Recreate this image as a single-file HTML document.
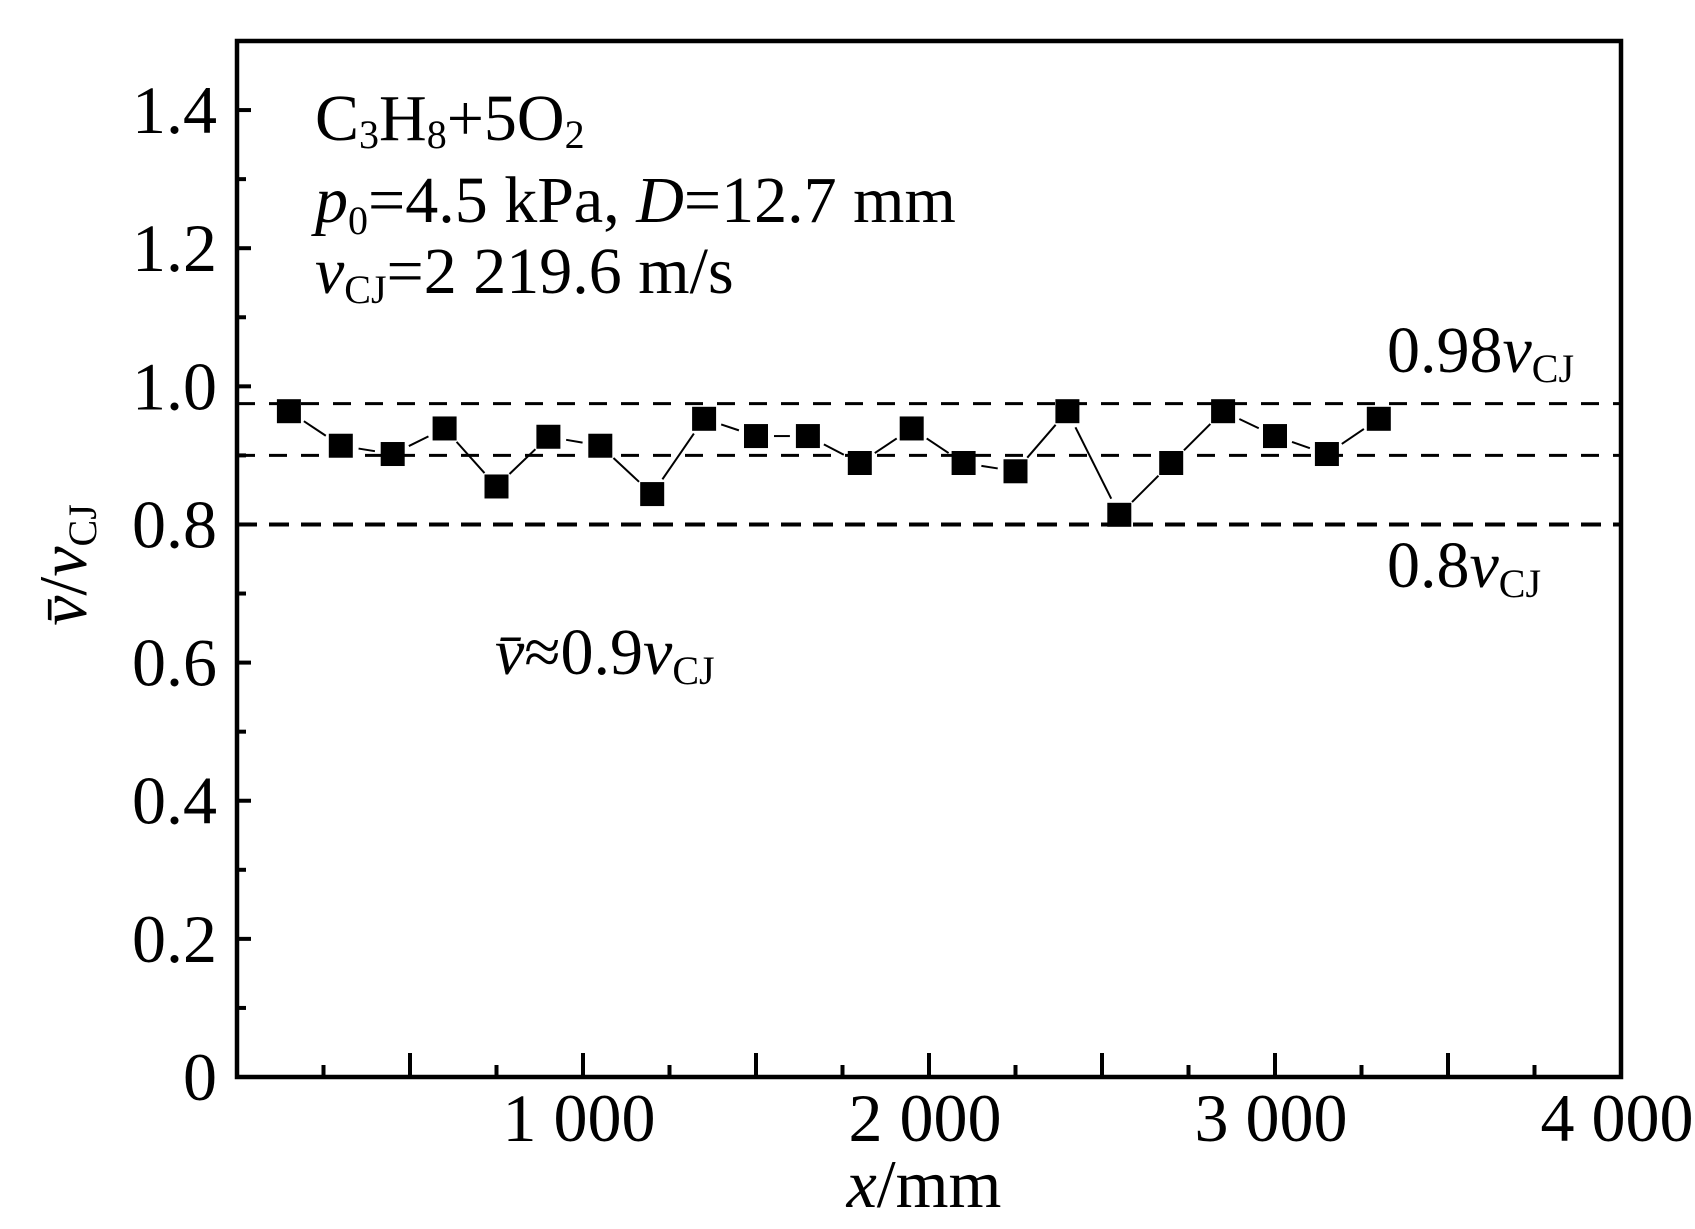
<!DOCTYPE html>
<html><head><meta charset="utf-8"><style>
html,body{margin:0;padding:0;background:#fff;}
svg{display:block;font-family:"Liberation Serif",serif;}
</style></head><body>
<svg id="chart" width="1695" height="1229" viewBox="0 0 1695 1229" xmlns="http://www.w3.org/2000/svg">
<g id="grid"></g>
<g id="marks"></g>
<g id="axes"></g>
<g id="labels" font-size="62" fill="#000"></g>
</svg>
<script>
const xs = [150,300,450,600,750,900,1050,1200,1350,1500,1650,1800,1950,2100,2250,2400,2550,2700,2850,3000,3150,3300];
const ys = [0.964,0.914,0.902,0.939,0.855,0.927,0.914,0.844,0.953,0.928,0.928,0.889,0.939,0.889,0.877,0.964,0.814,0.889,0.964,0.928,0.902,0.953];
const refLines = [0.975,0.9,0.8];
const yTicks = [0,0.2,0.4,0.6,0.8,1.0,1.2,1.4];
const yTickLabels = ["0","0.2","0.4","0.6","0.8","1.0","1.2","1.4"];
const xTicks = [1000,2000,3000,4000];
const xTickLabels = ["1 000","2 000","3 000","4 000"];

const L=237,R=1621,T=41,B=1077,XMAX=4000,YMAX=1.5;
const sx=v=>L+(v/XMAX)*(R-L);
const sy=v=>B-(v/YMAX)*(B-T);
const NS="http://www.w3.org/2000/svg";
function mk(tag,attrs,parent){const e=document.createElementNS(NS,tag);for(const k in attrs)e.setAttribute(k,attrs[k]);parent.appendChild(e);return e;}
const grid=document.getElementById('grid'),marks=document.getElementById('marks'),axes=document.getElementById('axes'),labels=document.getElementById('labels');

refLines.forEach((v,i)=>{
  const l=mk('line',{x1:L,x2:R,y1:sy(v),y2:sy(v),stroke:'#000','stroke-width':i==2?4:3,'stroke-dasharray':i==2?'20 12':'18 14'},grid);
  
  
});

for(let i=0;i<xs.length-1;i++){
  const x1=sx(xs[i]),y1=sy(ys[i]),x2=sx(xs[i+1]),y2=sy(ys[i+1]);
  const dx=x2-x1,dy=y2-y1,d=Math.hypot(dx,dy),g=18;
  if(d>2*g){
    const s=mk('line',{x1:x1+dx*g/d,y1:y1+dy*g/d,x2:x2-dx*g/d,y2:y2-dy*g/d,stroke:'#000','stroke-width':2},marks);
    
    
  }
}
xs.forEach((x,i)=>{
  const r=mk('rect',{x:sx(x)-12,y:sy(ys[i])-12,width:24,height:24,fill:'#000'},marks);
  
  
});

const frame=mk('rect',{x:L,y:T,width:R-L,height:B-T,fill:'none',stroke:'#000','stroke-width':4.5},axes);


for(let v=0;v<=1.5001;v+=0.1){
  const major=Math.round(v*10)%2==0;
  const t=mk('line',{x1:L,x2:L+(major?14:9),y1:sy(v),y2:sy(v),stroke:'#000','stroke-width':4},axes);
  
  
}
for(let v=250;v<XMAX;v+=250){
  const major=v%500==0;
  const t=mk('line',{x1:sx(v),x2:sx(v),y1:B,y2:B-(major?24:12),stroke:'#000','stroke-width':4},axes);
  
  
}

yTicks.forEach((v,i)=>{
  const t=mk('text',{x:217,y:sy(v)+23,'text-anchor':'end','font-size':68},labels);
  t.textContent=yTickLabels[i];
  
  
});
xTicks.forEach((v,i)=>{
  const t=mk('text',{x:sx(v)-4,y:1141,'text-anchor':'middle','font-size':68},labels);
  t.textContent=xTickLabels[i];
  
  
});
</script>
<script>
(function(){
const labels=document.getElementById('labels');
labels.insertAdjacentHTML('beforeend',`
<text x="924" y="1207" text-anchor="middle" font-size="68"><tspan font-style="italic">x</tspan>/mm</text>
<text transform="translate(86,565) rotate(-90)" text-anchor="middle" font-size="68"><tspan font-style="italic">v̄</tspan>/<tspan font-style="italic">v</tspan><tspan font-size="40" dy="10">CJ</tspan></text>
<text x="315" y="140" font-size="66">C<tspan font-size="40" dy="8">3</tspan><tspan dy="-8">H</tspan><tspan font-size="40" dy="8">8</tspan><tspan dy="-8">+5O</tspan><tspan font-size="40" dy="8">2</tspan></text>
<text x="315" y="222" font-size="66"><tspan font-style="italic">p</tspan><tspan font-size="40" dy="12">0</tspan><tspan dy="-12">=4.5 kPa, </tspan><tspan font-style="italic">D</tspan>=12.7 mm</text>
<text x="315" y="293" font-size="66"><tspan font-style="italic">v</tspan><tspan font-size="40" dy="10">CJ</tspan><tspan dy="-10">=2 219.6 m/s</tspan></text>
<text x="1387" y="372" font-size="66">0.98<tspan font-style="italic">v</tspan><tspan font-size="40" dy="10">CJ</tspan></text>
<text x="1387" y="587" font-size="66">0.8<tspan font-style="italic">v</tspan><tspan font-size="40" dy="10">CJ</tspan></text>
<text x="495" y="674" font-size="66"><tspan font-style="italic">v̄</tspan>≈0.9<tspan font-style="italic">v</tspan><tspan font-size="40" dy="10">CJ</tspan></text>
`);
})();
</script>
</body></html>
